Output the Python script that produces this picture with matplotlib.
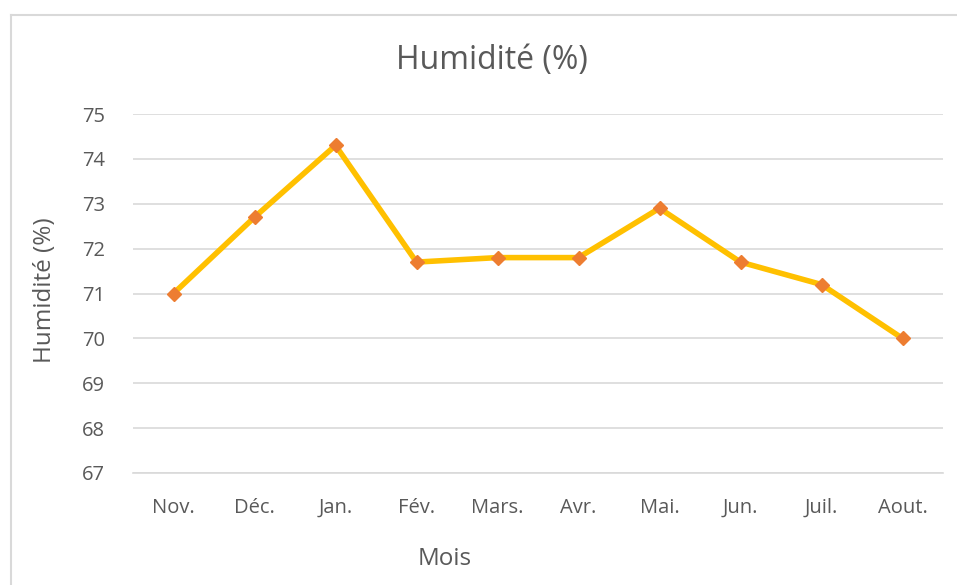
import matplotlib
matplotlib.use("Agg")
import matplotlib.pyplot as plt
from matplotlib.lines import Line2D

months = ["Nov.", "Déc.", "Jan.", "Fév.", "Mars.", "Avr.", "Mai.", "Jun.", "Juil.", "Aout."]
humidity = [71.0, 72.7, 74.3, 71.7, 71.8, 71.8, 72.9, 71.7, 71.2, 70.0]
yticks = [67, 68, 69, 70, 71, 72, 73, 74, 75]

plt.rcParams['font.family'] = ['Open Sans', 'DejaVu Sans']
txt = '#595959'
grid = '#D9D9D9'

W, H = 957, 585
fig = plt.figure(figsize=(W / 100, H / 100), dpi=100)
ax = fig.add_axes([133 / W, 1 - 473 / H, (943 - 133) / W, (473 - 114) / H])

x = list(range(len(months)))
ax.plot(x, humidity, color='#FFC000', lw=4.0, solid_joinstyle='miter', zorder=3)
ax.plot(x, humidity, ls='none', marker='D', ms=7, color='#ED7D31', zorder=4)

ax.set_xlim(-0.5, len(months) - 0.5)
ax.set_ylim(67, 75)
ax.set_yticks(yticks)
ax.set_xticks(x)
ax.set_xticklabels(months)
ax.grid(axis='y', color=grid, lw=1.2)
ax.set_axisbelow(True)
for s in ['top', 'right', 'left']:
    ax.spines[s].set_visible(False)
ax.spines['bottom'].set_color(grid)
ax.spines['bottom'].set_linewidth(1.2)
ax.tick_params(length=0, labelsize=14.5, colors=txt)
ax.tick_params(axis='x', pad=18)
ax.tick_params(axis='y', pad=20)

fig.text(492 / W, 1 - 61 / H, "Humidité (%)", ha='center', va='center', fontsize=23, color=txt)
fig.text(45 / W, 1 - 290 / H, "Humidité (%)", ha='center', va='center', rotation=90, fontsize=17.5, color=txt)
fig.text(445 / W, 1 - 559 / H, "Mois", ha='center', va='center', fontsize=17.5, color=txt)

# chart frame
fig.add_artist(Line2D([11 / W, 956 / W], [1 - 15 / H, 1 - 15 / H], transform=fig.transFigure, color=grid, lw=1.5))
fig.add_artist(Line2D([11 / W, 11 / W], [1 - 15 / H, 0], transform=fig.transFigure, color=grid, lw=1.5))

fig.savefig("out.png", dpi=100)
